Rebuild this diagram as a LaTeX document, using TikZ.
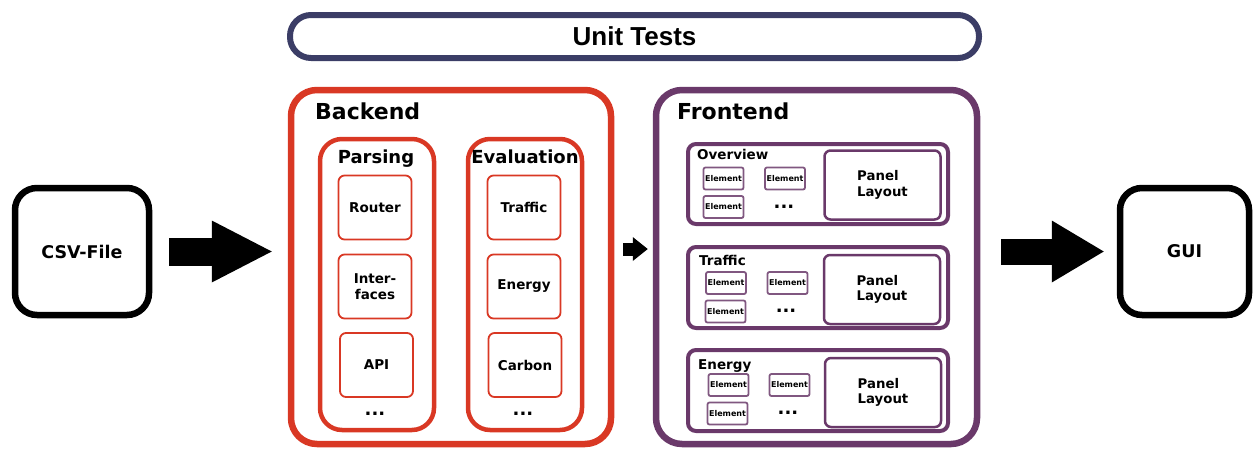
\documentclass[tikz,border=0pt]{standalone}
\usepackage{fontspec}
\setmainfont{DejaVu Sans}
\newfontfamily\utfont{Liberation Sans}
\usetikzlibrary{arrows.meta}
\definecolor{bred}{RGB}{217,56,36}
\definecolor{fpurple}{RGB}{106,57,106}
\definecolor{navy}{RGB}{59,61,102}
\begin{document}
\begin{tikzpicture}[x=1pt,y=-1pt,
  blackbox/.style={draw=black, line width=6.5pt, rounded corners=22pt, inner sep=0pt,
    minimum width=134pt, minimum height=127pt, font=\fontsize{17.5}{20}\selectfont\bfseries},
  utbox/.style={draw=navy, line width=6pt, rounded corners=21pt, inner sep=0pt,
    minimum width=689pt, minimum height=43pt, font=\utfont\fontsize{26}{30}\selectfont\bfseries},
  bigbox/.style={draw=#1, line width=6.5pt, rounded corners=26pt, inner sep=0pt,
    minimum width=320pt, minimum height=354pt},
  bigtitle/.style={anchor=base west, inner sep=0pt, font=\fontsize{22}{26}\selectfont\bfseries},
  colbox/.style={draw=bred, line width=4.5pt, rounded corners=22pt, inner sep=0pt,
    minimum width=114pt, minimum height=291pt},
  coltitle/.style={anchor=base, inner sep=0pt, font=\fontsize{18}{21}\selectfont\bfseries},
  itembox/.style={draw=bred, line width=1.8pt, rounded corners=6pt, inner sep=0pt,
    minimum width=73pt, minimum height=64pt, align=center,
    font=\fontsize{13.5}{16}\selectfont\bfseries},
  dots/.style={inner sep=0pt, font=\fontsize{18}{19}\selectfont\bfseries},
  panel/.style={draw=fpurple, line width=4pt, rounded corners=8pt, inner sep=0pt,
    minimum width=260pt, minimum height=81pt},
  ptitle/.style={anchor=base west, inner sep=0pt, font=\fontsize{13.5}{16}\selectfont\bfseries},
  elem/.style={draw=fpurple!85, line width=1.8pt, rounded corners=2pt, inner sep=0pt,
    minimum width=40pt, minimum height=22pt, font=\fontsize{8}{9}\selectfont\bfseries},
  layoutbox/.style={draw=fpurple, line width=2.5pt, rounded corners=6pt, inner sep=0pt,
    minimum width=116pt, minimum height=69pt, align=left,
    font=\fontsize{13.3}{15.5}\selectfont\bfseries},
  blockarrow/.style n args={3}{draw=black, line width=#1,
    -{Triangle[length=#2, width=#3, line width=0pt]}}
]
\useasboundingbox (0,0) rectangle (1254,448);

% side boxes
\node[blackbox] (csv) at (82,251.5) {CSV-File};
\node[blackbox, minimum width=129pt] (gui) at (1184.5,251.5) {GUI};

% unit tests
\node[utbox] (ut) at (634.5,36.5) {Unit Tests};

% backend
\node[bigbox=bred] (backend) at (451,267) {};
\node[bigtitle] (betitle) at (315,119) {Backend};
\node[colbox] (parsing) at (377,284.5) {};
\node[coltitle] (parsingt) at (376,163) {Parsing};
\node[colbox] (evaluation) at (525,284.5) {};
\node[coltitle] (evaluationt) at (525,163) {Evaluation};

\node[itembox] (router) at (375,207.5) {Router};
\node[itembox] (interfaces) at (375,286.5) {Inter-\\faces};
\node[itembox] (api) at (376.5,365) {API};
\node[dots] (pdots) at (375,414) {...};

\node[itembox] (traffic) at (524,207.5) {Traffic};
\node[itembox] (energy) at (524,286.5) {Energy};
\node[itembox] (carbon) at (525,365) {Carbon};
\node[dots] (edots) at (523,414) {...};

% frontend
\node[bigbox=fpurple, minimum width=321pt] (frontend) at (816.5,267) {};
\node[bigtitle] (fetitle) at (677,119) {Frontend};

\node[panel, minimum height=80pt] (p1) at (818,184) {};
\node[ptitle] (p1t) at (697,159) {Overview};
\node[elem] (p1e1) at (723.5,178.5) {Element};
\node[elem] (p1e2) at (785,178.5) {Element};
\node[elem] (p1e3) at (723.5,207) {Element};
\node[dots] (p1d) at (784,207) {...};
\node[layoutbox] (p1l) at (882.5,185) {Panel\\Layout};

\node[panel] (p2) at (818,287.5) {};
\node[ptitle] (p2t) at (699,265) {Traffic};
\node[elem] (p2e1) at (726,283) {Element};
\node[elem] (p2e2) at (787.5,283) {Element};
\node[elem] (p2e3) at (725.5,311.5) {Element};
\node[dots] (p2d) at (786,311) {...};
\node[layoutbox] (p2l) at (882,289.5) {Panel\\Layout};

\node[panel] (p3) at (818,390.5) {};
\node[ptitle] (p3t) at (698,369) {Energy};
\node[elem] (p3e1) at (728.5,385) {Element};
\node[elem] (p3e2) at (789.5,385) {Element};
\node[elem] (p3e3) at (727.5,413.5) {Element};
\node[dots] (p3d) at (788,413) {...};
\node[layoutbox] (p3l) at (883,392.5) {Panel\\Layout};

% arrows
\draw[blockarrow={28pt}{60pt}{62pt}, shorten <=17pt, shorten >=16pt]
  (csv.east) -- (csv.east -| backend.west);
\draw[blockarrow={13pt}{15pt}{24pt}, shorten <=9pt, shorten >=5pt]
  ([yshift=18pt]backend.east) -- ([yshift=18pt]backend.east -| frontend.west);
\draw[blockarrow={26pt}{52pt}{62pt}, shorten <=21pt, shorten >=13pt]
  (gui.west -| frontend.east) -- (gui.west);
\end{tikzpicture}
\end{document}
